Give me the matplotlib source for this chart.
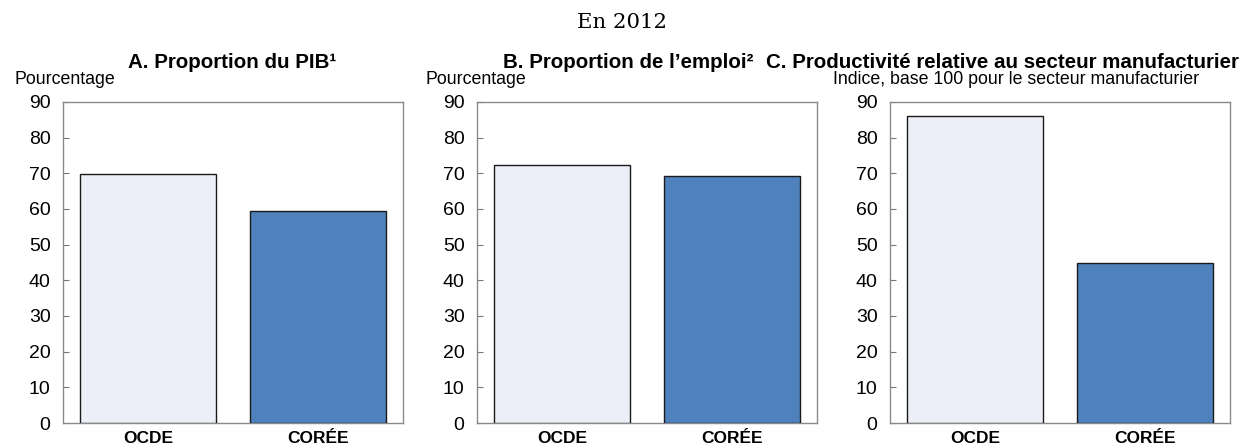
import matplotlib
matplotlib.use("Agg")
import matplotlib.pyplot as plt
import numpy as np

plt.rcParams['font.family'] = ['Liberation Sans', 'DejaVu Sans']

categories = ["OCDE", "CORÉE"]
panel_a = [69.8, 59.4]
panel_b = [72.3, 69.2]
panel_c = [86.1, 44.9]
titles = ["A. Proportion du PIB¹", "B. Proportion de l’emploi²",
          "C. Productivité relative au secteur manufacturier"]
ylabels = ["Pourcentage", "Pourcentage", "Indice, base 100 pour le secteur manufacturier"]
yticks = [0, 10, 20, 30, 40, 50, 60, 70, 80, 90]
colors = ["#ECEFF8", "#4F81BD"]

W, H = 1245, 446
fig = plt.figure(figsize=(W / 100, H / 100), dpi=100)
renderer = fig.canvas.get_renderer()


def fit_size(text, target_w, base=12, **kw):
    t = fig.text(0, 0, text, fontsize=base, **kw)
    w = t.get_window_extent(renderer).width
    t.remove()
    return base * target_w / w


title_size = fit_size(titles[2], 470, fontweight="bold")
ylabel_size = fit_size(ylabels[2], 366)
cat_size = fit_size("OCDE", 50, fontweight="bold")
main_size = fit_size("En 2012", 90, family=["DejaVu Serif"])

axes_left = [63, 477, 890]
axes_w = 340
top_px, bot_px = 102, 423
title_left = [128, 503, 766]
ylabel_x = [14, 425, 833]

for i, vals in enumerate([panel_a, panel_b, panel_c]):
    ax = fig.add_axes([axes_left[i] / W, 1 - bot_px / H, axes_w / W, (bot_px - top_px) / H])
    x = np.arange(len(categories))
    ax.bar(x, vals, width=0.8, color=colors, edgecolor="#1a1a1a", linewidth=1.0, zorder=3)
    ax.set_xlim(-0.5, 1.5)
    ax.set_ylim(0, 90)
    ax.set_yticks(yticks)
    ax.set_xticks(x)
    ax.set_xticklabels(categories, fontsize=cat_size, fontweight="bold")
    ax.tick_params(axis="x", length=0, pad=6)
    ax.tick_params(axis="y", length=4, width=0.8, color="#777777", labelsize=14, pad=9,
                   direction="in")
    for sp in ax.spines.values():
        sp.set_color("#8a8a8a")
        sp.set_linewidth(1.0)
    fig.text(title_left[i] / W, 1 - 62 / H, titles[i], fontsize=title_size, fontweight="bold",
             ha="left", va="center")
    fig.text(ylabel_x[i] / W, 1 - 79 / H, ylabels[i], fontsize=ylabel_size, ha="left", va="center")

fig.text(622 / W, 1 - 22 / H, "En 2012", fontsize=main_size, family=["DejaVu Serif"],
         ha="center", va="center")

fig.savefig("out.png", dpi=100)
